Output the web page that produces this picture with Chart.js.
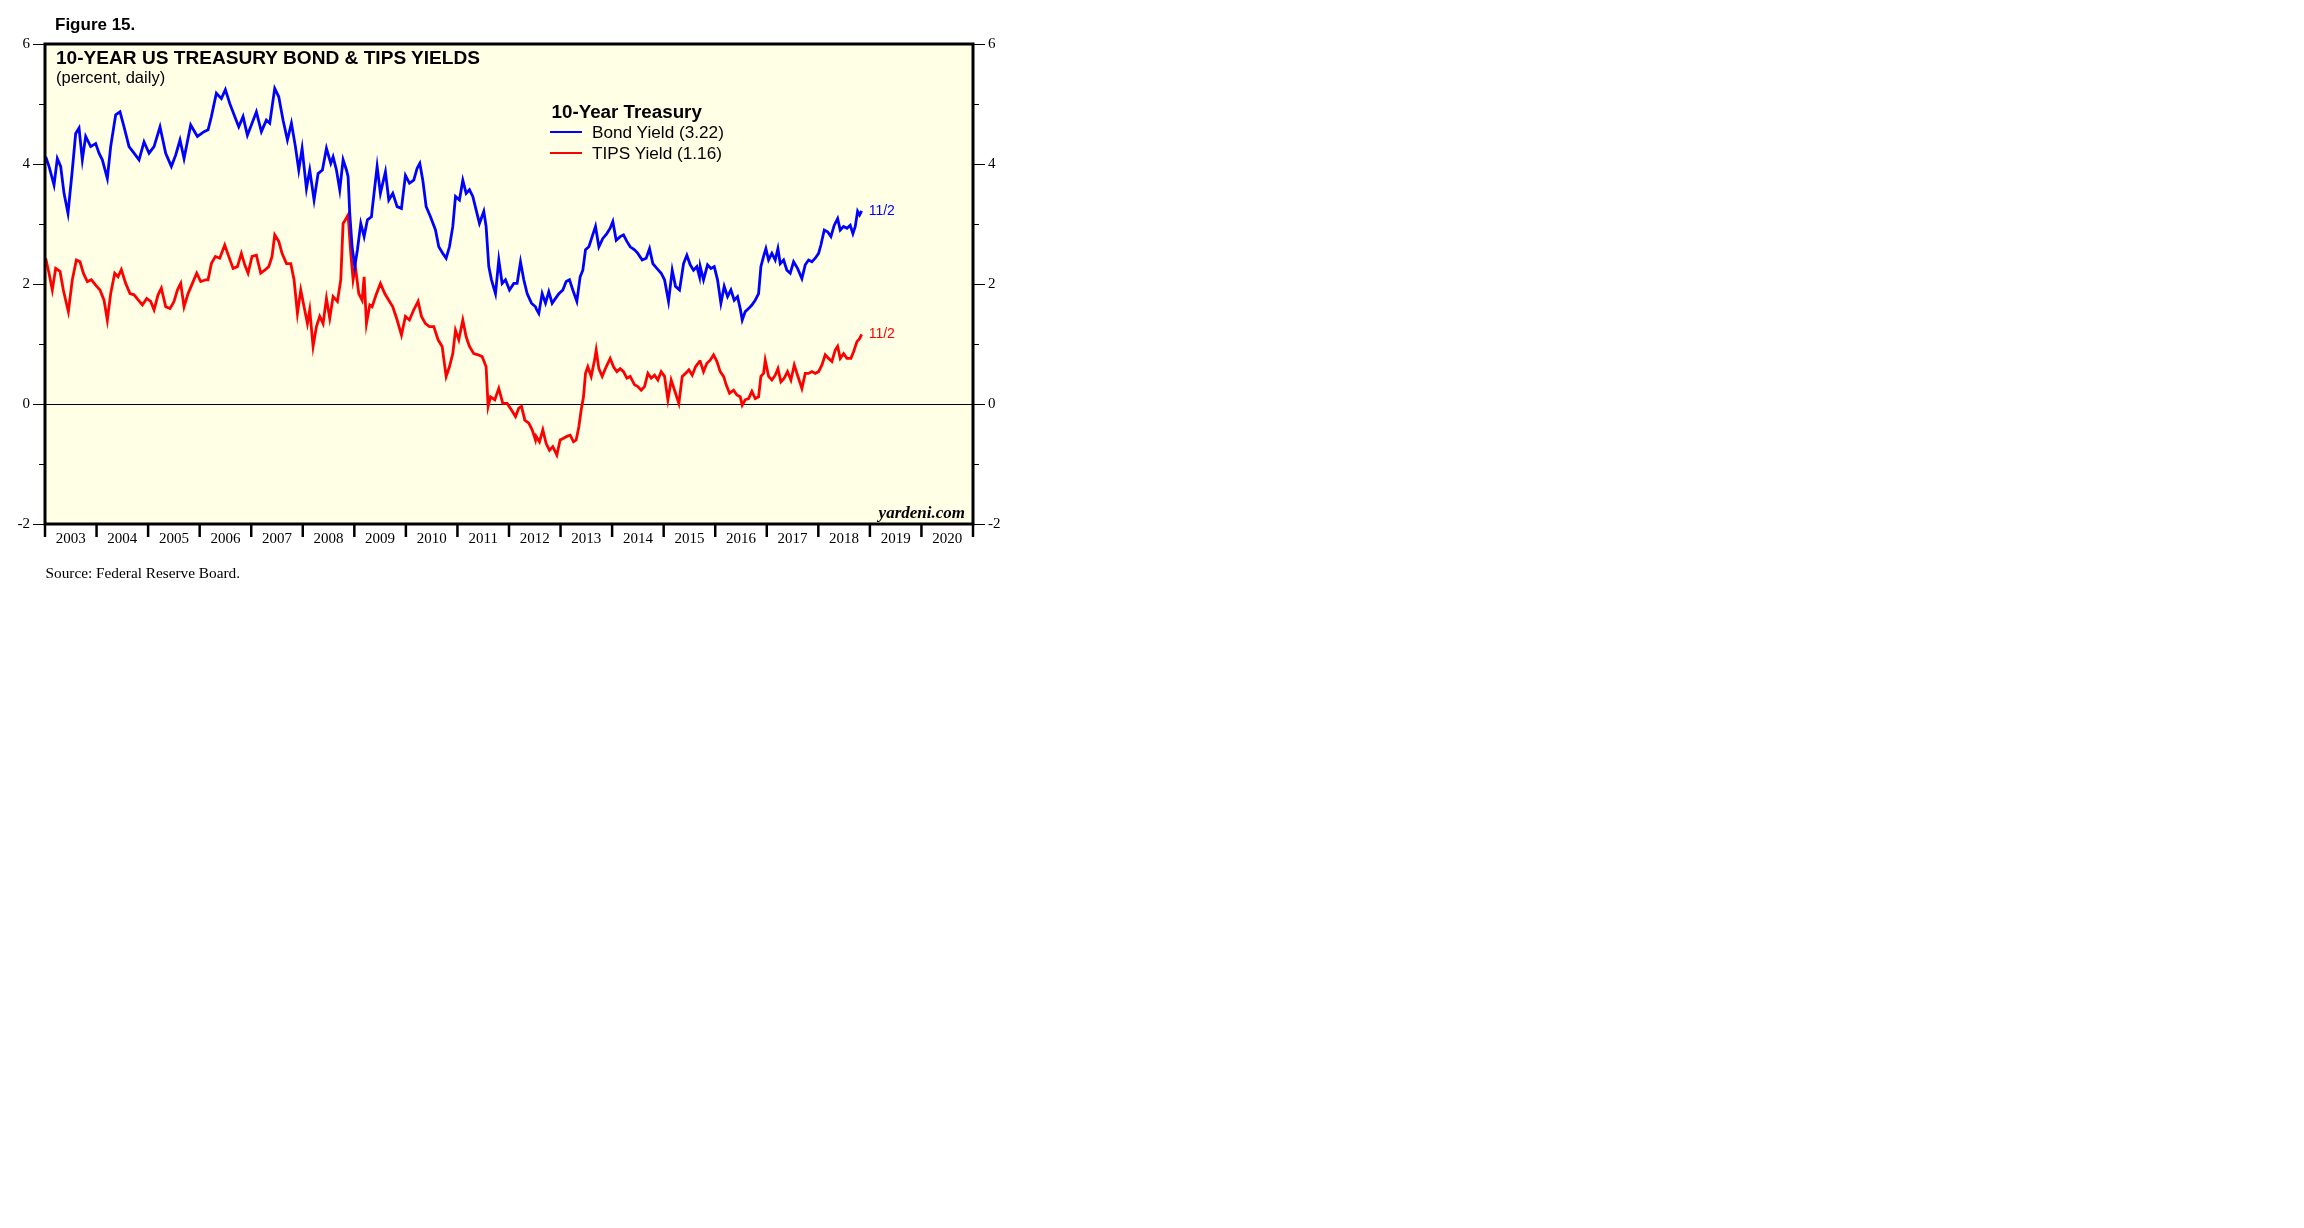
<!DOCTYPE html>
<html>
<head>
<meta charset="utf-8">
<script src="https://cdn.jsdelivr.net/npm/chart.js@4.4.0/dist/chart.umd.min.js"></script>
<style>
  body { margin: 0; background: #fff; width: 2304px; height: 1228px; position: relative; overflow: hidden; }
  .txt { position: absolute; line-height: 1; white-space: nowrap; color: #000; }
  .sans { font-family: 'Liberation Sans', Arial, sans-serif; }
  .serif { font-family: 'Liberation Serif', 'Times New Roman', serif; }
  #chart-box { position: absolute; left: 0; top: 0; }
  .key-line { position: absolute; width: 32px; height: 2px; }
</style>
</head>
<body>
<div id="chart-box"><canvas id="chart-1" width="1100" height="600"></canvas></div>

<div class="txt sans" style="left:55px;top:15.5px;font-size:17px;font-weight:bold;">Figure 15.</div>
<div class="txt sans" style="left:56px;top:47.8px;font-size:19.1px;font-weight:bold;">10-YEAR US TREASURY BOND &amp; TIPS YIELDS</div>
<div class="txt sans" style="left:56px;top:68.8px;font-size:16.5px;">(percent, daily)</div>

<div class="txt sans" style="left:551.5px;top:103.3px;font-size:18.8px;font-weight:bold;">10-Year Treasury</div>
<div class="key-line" style="left:550px;top:131px;background:#0000ff;"></div>
<div class="txt sans" style="left:592px;top:124px;font-size:17.2px;">Bond Yield (3.22)</div>
<div class="key-line" style="left:550px;top:152px;background:#ff0000;"></div>
<div class="txt sans" style="left:592px;top:144.5px;font-size:17.2px;">TIPS Yield (1.16)</div>

<div class="txt serif" style="left:45.5px;top:564.5px;font-size:15.3px;">Source: Federal Reserve Board.</div>

<script>
// year boundaries and labels for the bottom axis
const yearLabels = ['2003', '2004', '2005', '2006', '2007', '2008', '2009', '2010', '2011',
  '2012', '2013', '2014', '2015', '2016', '2017', '2018', '2019', '2020'];
const firstYear = 2003;
const lastYear = 2021;

// left / right axis ticks
const yMin = -2;
const yMax = 6;
const yLabelled = [-2, 0, 2, 4, 6];
const yMinor = [-1, 1, 3, 5];

const lastDateLabel = '11/2';

// 10-year Treasury bond yield (decimal years)
const bondDates = [
  2003.013, 2003.078, 2003.175, 2003.239, 2003.304, 2003.369, 2003.446, 2003.530, 2003.595, 2003.660,
  2003.724, 2003.789, 2003.886, 2003.983, 2004.048, 2004.112, 2004.209, 2004.274, 2004.371, 2004.455,
  2004.533, 2004.630, 2004.727, 2004.824, 2004.921, 2005.018, 2005.115, 2005.231, 2005.341, 2005.451,
  2005.535, 2005.619, 2005.697, 2005.826, 2005.956, 2006.085, 2006.163, 2006.227, 2006.324, 2006.421,
  2006.499, 2006.583, 2006.680, 2006.758, 2006.842, 2006.926, 2007.003, 2007.100, 2007.197, 2007.294,
  2007.359, 2007.456, 2007.534, 2007.618, 2007.702, 2007.780, 2007.857, 2007.922, 2007.987, 2008.071,
  2008.135, 2008.219, 2008.297, 2008.381, 2008.459, 2008.543, 2008.588, 2008.653, 2008.717, 2008.782,
  2008.847, 2008.879, 2008.911, 2008.957, 2009.008, 2009.060, 2009.125, 2009.190, 2009.254, 2009.332,
  2009.345, 2009.442, 2009.506, 2009.603, 2009.668, 2009.746, 2009.830, 2009.914, 2009.991, 2010.069,
  2010.153, 2010.218, 2010.270, 2010.328, 2010.393, 2010.477, 2010.574, 2010.638, 2010.716, 2010.781,
  2010.845, 2010.910, 2010.962, 2011.039, 2011.104, 2011.169, 2011.233, 2011.298, 2011.363, 2011.427,
  2011.511, 2011.556, 2011.608, 2011.660, 2011.738, 2011.802, 2011.867, 2011.932, 2012.009, 2012.093,
  2012.158, 2012.223, 2012.287, 2012.352, 2012.436, 2012.514, 2012.527, 2012.578, 2012.643, 2012.708,
  2012.772, 2012.837, 2012.902, 2012.967, 2013.044, 2013.109, 2013.173, 2013.238, 2013.316, 2013.380,
  2013.432, 2013.484, 2013.549, 2013.613, 2013.678, 2013.743, 2013.820, 2013.898, 2013.962, 2014.014,
  2014.079, 2014.157, 2014.221, 2014.286, 2014.351, 2014.435, 2014.499, 2014.583, 2014.661, 2014.726,
  2014.790, 2014.868, 2014.952, 2015.017, 2015.094, 2015.166, 2015.230, 2015.308, 2015.386, 2015.450,
  2015.515, 2015.579, 2015.644, 2015.696, 2015.709, 2015.773, 2015.851, 2015.916, 2015.981, 2016.045,
  2016.110, 2016.174, 2016.239, 2016.304, 2016.369, 2016.433, 2016.485, 2016.524, 2016.582, 2016.647,
  2016.711, 2016.776, 2016.841, 2016.886, 2016.938, 2016.983, 2017.035, 2017.099, 2017.164, 2017.216,
  2017.261, 2017.326, 2017.390, 2017.455, 2017.520, 2017.597, 2017.681, 2017.746, 2017.811, 2017.875,
  2017.940, 2018.005, 2018.050, 2018.115, 2018.179, 2018.244, 2018.309, 2018.374, 2018.425, 2018.490,
  2018.555, 2018.619, 2018.671, 2018.716, 2018.762, 2018.800, 2018.840,
];
const bondYield = [
  4.12, 3.96, 3.65, 4.09, 3.96, 3.51, 3.18, 3.90, 4.51, 4.60,
  4.07, 4.46, 4.29, 4.34, 4.18, 4.07, 3.76, 4.29, 4.82, 4.87,
  4.62, 4.29, 4.18, 4.07, 4.37, 4.18, 4.29, 4.62, 4.18, 3.96,
  4.15, 4.40, 4.09, 4.65, 4.46, 4.54, 4.57, 4.79, 5.18, 5.09,
  5.24, 5.01, 4.79, 4.62, 4.79, 4.48, 4.65, 4.87, 4.54, 4.73,
  4.68, 5.26, 5.12, 4.73, 4.40, 4.68, 4.29, 3.90, 4.26, 3.59,
  3.90, 3.40, 3.84, 3.90, 4.26, 4.01, 4.12, 3.90, 3.57, 4.07,
  3.90, 3.79, 3.18, 2.62, 2.29, 2.57, 3.01, 2.79, 3.07, 3.12,
  3.23, 3.96, 3.51, 3.87, 3.40, 3.51, 3.29, 3.26, 3.81, 3.68,
  3.73, 3.93, 4.01, 3.73, 3.29, 3.12, 2.90, 2.62, 2.51, 2.43,
  2.62, 2.96, 3.46, 3.40, 3.73, 3.51, 3.57, 3.46, 3.23, 3.01,
  3.21, 2.96, 2.29, 2.07, 1.84, 2.40, 2.01, 2.07, 1.90, 2.01,
  2.01, 2.37, 2.07, 1.84, 1.68, 1.62, 1.59, 1.51, 1.84, 1.68,
  1.87, 1.68, 1.76, 1.84, 1.90, 2.04, 2.07, 1.90, 1.71, 2.12,
  2.23, 2.57, 2.62, 2.79, 2.96, 2.62, 2.76, 2.84, 2.93, 3.04,
  2.73, 2.79, 2.82, 2.71, 2.62, 2.57, 2.51, 2.40, 2.43, 2.59,
  2.34, 2.26, 2.18, 2.07, 1.71, 2.23, 1.96, 1.90, 2.34, 2.48,
  2.32, 2.23, 2.29, 2.12, 2.29, 2.07, 2.32, 2.26, 2.29, 2.07,
  1.68, 1.96, 1.79, 1.90, 1.73, 1.79, 1.59, 1.40, 1.54, 1.59,
  1.65, 1.73, 1.84, 2.29, 2.46, 2.59, 2.40, 2.51, 2.40, 2.59,
  2.34, 2.40, 2.23, 2.18, 2.37, 2.26, 2.09, 2.32, 2.40, 2.37,
  2.43, 2.51, 2.65, 2.90, 2.87, 2.79, 2.98, 3.09, 2.90, 2.96,
  2.93, 2.98, 2.84, 2.96, 3.21, 3.15, 3.22,
];

// 10-year TIPS yield
const tipsDates = [
  2003.013, 2003.078, 2003.142, 2003.207, 2003.291, 2003.356, 2003.401, 2003.453, 2003.530, 2003.608,
  2003.679, 2003.744, 2003.821, 2003.899, 2003.983, 2004.067, 2004.145, 2004.209, 2004.274, 2004.352,
  2004.416, 2004.481, 2004.565, 2004.649, 2004.727, 2004.811, 2004.889, 2004.973, 2005.050, 2005.115,
  2005.193, 2005.257, 2005.341, 2005.425, 2005.503, 2005.568, 2005.632, 2005.697, 2005.775, 2005.859,
  2005.943, 2006.020, 2006.117, 2006.163, 2006.227, 2006.305, 2006.389, 2006.486, 2006.564, 2006.648,
  2006.732, 2006.809, 2006.874, 2006.939, 2007.016, 2007.100, 2007.184, 2007.262, 2007.340, 2007.404,
  2007.456, 2007.534, 2007.598, 2007.683, 2007.767, 2007.831, 2007.896, 2007.961, 2008.025, 2008.090,
  2008.135, 2008.200, 2008.265, 2008.329, 2008.394, 2008.459, 2008.523, 2008.588, 2008.672, 2008.737,
  2008.782, 2008.827, 2008.879, 2008.931, 2008.976, 2009.021, 2009.086, 2009.151, 2009.190, 2009.235,
  2009.299, 2009.345, 2009.422, 2009.506, 2009.590, 2009.668, 2009.746, 2009.830, 2009.914, 2009.991,
  2010.069, 2010.153, 2010.237, 2010.302, 2010.380, 2010.457, 2010.541, 2010.625, 2010.703, 2010.781,
  2010.845, 2010.910, 2010.962, 2011.026, 2011.104, 2011.169, 2011.233, 2011.317, 2011.401, 2011.479,
  2011.556, 2011.595, 2011.641, 2011.725, 2011.802, 2011.880, 2011.964, 2012.048, 2012.126, 2012.190,
  2012.242, 2012.307, 2012.384, 2012.449, 2012.514, 2012.527, 2012.591, 2012.656, 2012.721, 2012.785,
  2012.850, 2012.928, 2012.992, 2013.057, 2013.122, 2013.187, 2013.251, 2013.303, 2013.355, 2013.400,
  2013.445, 2013.484, 2013.529, 2013.594, 2013.659, 2013.691, 2013.743, 2013.807, 2013.885, 2013.962,
  2014.027, 2014.092, 2014.157, 2014.221, 2014.286, 2014.351, 2014.435, 2014.499, 2014.564, 2014.629,
  2014.694, 2014.758, 2014.823, 2014.888, 2014.952, 2015.017, 2015.082, 2015.146, 2015.230, 2015.295,
  2015.360, 2015.425, 2015.489, 2015.554, 2015.618, 2015.696, 2015.709, 2015.773, 2015.838, 2015.903,
  2015.968, 2016.032, 2016.097, 2016.162, 2016.213, 2016.278, 2016.356, 2016.420, 2016.485, 2016.524,
  2016.582, 2016.647, 2016.711, 2016.776, 2016.841, 2016.886, 2016.938, 2016.970, 2017.035, 2017.099,
  2017.164, 2017.216, 2017.274, 2017.338, 2017.403, 2017.468, 2017.533, 2017.597, 2017.681, 2017.746,
  2017.811, 2017.875, 2017.940, 2018.005, 2018.070, 2018.134, 2018.199, 2018.263, 2018.328, 2018.374,
  2018.425, 2018.490, 2018.555, 2018.632, 2018.684, 2018.749, 2018.800, 2018.840,
];
const tipsYield = [
  2.43, 2.18, 1.90, 2.26, 2.21, 1.90, 1.73, 1.54, 2.07, 2.40,
  2.37, 2.18, 2.04, 2.07, 1.98, 1.90, 1.73, 1.40, 1.84, 2.18,
  2.12, 2.24, 2.01, 1.84, 1.82, 1.73, 1.65, 1.76, 1.71, 1.57,
  1.82, 1.93, 1.62, 1.59, 1.71, 1.90, 2.01, 1.62, 1.84, 2.01,
  2.18, 2.04, 2.07, 2.07, 2.34, 2.46, 2.43, 2.65, 2.46, 2.26,
  2.29, 2.51, 2.32, 2.18, 2.46, 2.48, 2.18, 2.23, 2.29, 2.46,
  2.82, 2.71, 2.51, 2.34, 2.34, 2.07, 1.51, 1.90, 1.62, 1.34,
  1.57, 0.96, 1.29, 1.46, 1.34, 1.76, 1.43, 1.79, 1.71, 2.07,
  3.01, 3.07, 3.15, 2.51, 2.07, 2.29, 1.84, 1.73, 2.12, 1.34,
  1.65, 1.62, 1.82, 2.01, 1.84, 1.73, 1.62, 1.40, 1.15, 1.46,
  1.40, 1.57, 1.71, 1.46, 1.34, 1.29, 1.29, 1.07, 0.96, 0.46,
  0.62, 0.84, 1.23, 1.07, 1.40, 1.12, 0.96, 0.84, 0.82, 0.79,
  0.62, -0.04, 0.12, 0.07, 0.26, 0.01, 0.01, -0.10, -0.21, -0.07,
  -0.04, -0.27, -0.32, -0.43, -0.60, -0.54, -0.63, -0.43, -0.66, -0.77,
  -0.71, -0.85, -0.60, -0.57, -0.54, -0.52, -0.63, -0.60, -0.38, -0.10,
  0.12, 0.51, 0.62, 0.46, 0.73, 0.90, 0.59, 0.46, 0.62, 0.76,
  0.62, 0.54, 0.59, 0.54, 0.43, 0.46, 0.32, 0.29, 0.23, 0.29,
  0.51, 0.43, 0.48, 0.40, 0.54, 0.46, 0.07, 0.40, 0.18, 0.01,
  0.46, 0.51, 0.57, 0.48, 0.62, 0.71, 0.71, 0.54, 0.68, 0.73,
  0.82, 0.71, 0.54, 0.46, 0.32, 0.18, 0.23, 0.15, 0.12, -0.02,
  0.07, 0.09, 0.21, 0.09, 0.12, 0.46, 0.51, 0.73, 0.46, 0.40,
  0.48, 0.59, 0.37, 0.43, 0.54, 0.40, 0.65, 0.48, 0.26, 0.51,
  0.51, 0.54, 0.51, 0.54, 0.65, 0.82, 0.76, 0.71, 0.90, 0.96,
  0.76, 0.84, 0.76, 0.76, 0.87, 1.04, 1.09, 1.16,
];

const toPoints = (dates, values) => dates.map((d, i) => ({ x: d, y: values[i] }));

const serifFont = "'Liberation Serif', 'Times New Roman', serif";
const sansFont = "'Liberation Sans', Arial, sans-serif";

// frame, background, zero line, tick marks and end labels
const framePlugin = {
  id: 'frame',
  beforeDraw(chart) {
    const { ctx, chartArea: a } = chart;
    ctx.save();
    ctx.fillStyle = '#ffffe5';
    ctx.fillRect(a.left, a.top, a.right - a.left, a.bottom - a.top);
    ctx.restore();
  },
  beforeDatasetsDraw(chart) {
    const { ctx, chartArea: a, scales } = chart;
    const y0 = Math.round(scales.y.getPixelForValue(0)) + 0.5;
    ctx.save();
    ctx.strokeStyle = '#000';
    ctx.lineWidth = 1;
    ctx.beginPath();
    ctx.moveTo(a.left, y0);
    ctx.lineTo(a.right, y0);
    ctx.stroke();
    ctx.restore();
  },
  afterDatasetsDraw(chart) {
    const { ctx, chartArea: a, scales } = chart;
    ctx.save();
    // minor ticks on both sides
    ctx.strokeStyle = '#000';
    ctx.lineWidth = 1;
    yMinor.forEach((v) => {
      const py = Math.round(scales.y.getPixelForValue(v)) + 0.5;
      ctx.beginPath();
      ctx.moveTo(a.left - 6, py);
      ctx.lineTo(a.left, py);
      ctx.moveTo(a.right, py);
      ctx.lineTo(a.right + 6, py);
      ctx.stroke();
    });
    // year tick marks below the frame
    ctx.lineWidth = 2.5;
    for (let yr = firstYear; yr <= lastYear; yr++) {
      const px = scales.x.getPixelForValue(yr);
      ctx.beginPath();
      ctx.moveTo(px, a.bottom);
      ctx.lineTo(px, a.bottom + 13);
      ctx.stroke();
    }
    // frame
    ctx.lineWidth = 3;
    ctx.strokeRect(a.left, a.top, a.right - a.left, a.bottom - a.top);

    // end-of-series date labels
    ctx.font = `14px ${sansFont}`;
    ctx.textBaseline = 'middle';
    ctx.textAlign = 'left';
    chart.data.datasets.forEach((ds, i) => {
      const pts = chart.getDatasetMeta(i).data;
      const last = pts[pts.length - 1];
      ctx.fillStyle = ds.borderColor;
      ctx.fillText(lastDateLabel, last.x + 7, last.y);
    });

    // watermark
    ctx.fillStyle = '#000';
    ctx.font = `italic bold 17px ${serifFont}`;
    ctx.textAlign = 'right';
    ctx.textBaseline = 'alphabetic';
    ctx.fillText('yardeni.com', a.right - 8, a.bottom - 6);
    ctx.restore();
  },
};

const yTicks = {
  stepSize: 1,
  padding: 3,
  color: '#000',
  font: { family: serifFont, size: 15 },
  callback: (v) => (yLabelled.includes(v) ? String(v) : ''),
};

const yGrid = {
  drawOnChartArea: false,
  drawTicks: true,
  tickLength: 12,
  tickWidth: 1,
  tickColor: (ctx) => (ctx.tick && yLabelled.includes(ctx.tick.value) ? '#000' : 'rgba(0,0,0,0)'),
};

new Chart(document.getElementById('chart-1'), {
  type: 'line',
  data: {
    datasets: [
      {
        label: 'Bond Yield (3.22)',
        data: toPoints(bondDates, bondYield),
        borderColor: '#0000ff',
        borderWidth: 2.8,
        pointRadius: 0,
        tension: 0,
      },
      {
        label: 'TIPS Yield (1.16)',
        data: toPoints(tipsDates, tipsYield),
        borderColor: '#ff0000',
        borderWidth: 2.8,
        pointRadius: 0,
        tension: 0,
      },
    ],
  },
  options: {
    responsive: false,
    animation: false,
    layout: { padding: { top: 44, left: 0, right: 0, bottom: 0 } },
    plugins: {
      legend: { display: false },
      tooltip: { enabled: false },
    },
    scales: {
      x: {
        type: 'linear',
        min: firstYear,
        max: lastYear,
        afterBuildTicks: (scale) => {
          scale.ticks = yearLabels.map((_, i) => ({ value: firstYear + i + 0.5 }));
        },
        afterFit: (scale) => { scale.height = 76; },
        grid: { display: false, drawTicks: false },
        border: { display: false },
        ticks: {
          autoSkip: false,
          maxRotation: 0,
          padding: 6,
          color: '#000',
          font: { family: serifFont, size: 15 },
          callback: (v) => yearLabels[Math.floor(v) - firstYear],
        },
      },
      y: {
        position: 'left',
        min: yMin,
        max: yMax,
        afterFit: (scale) => { scale.width = 45; },
        grid: yGrid,
        border: { display: false },
        ticks: yTicks,
      },
      y2: {
        position: 'right',
        min: yMin,
        max: yMax,
        afterFit: (scale) => { scale.width = 127; },
        grid: yGrid,
        border: { display: false },
        ticks: yTicks,
      },
    },
  },
  plugins: [framePlugin],
});
</script>
</body>
</html>
